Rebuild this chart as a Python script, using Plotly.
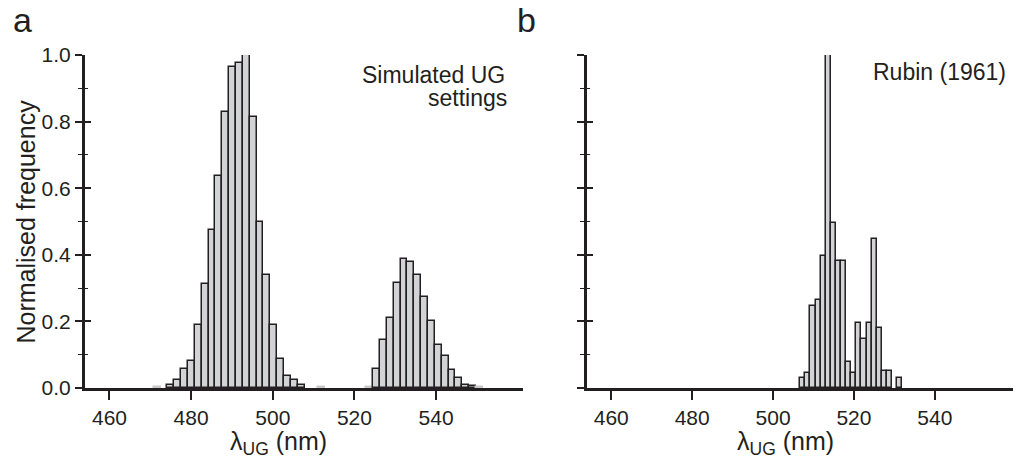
import plotly.graph_objects as go

# ---------------- data ----------------
# Panel a: simulated UG settings histogram (normalised)
a_bin_start = 470.82      # left edge of first bin (nm)
a_bin_width = 1.68        # nm
a_heights = [0.003, 0.0,
             0.01, 0.023, 0.058, 0.08, 0.188, 0.313, 0.473, 0.636, 0.83, 0.965,
             0.977, 1.0, 0.815, 0.50, 0.34, 0.19, 0.088, 0.037, 0.023, 0.008,
             0.0, 0.0, 0.003, 0.0, 0.0, 0.0, 0.0, 0.0, 0.0, 0.003,
             0.056, 0.145, 0.211, 0.315, 0.388, 0.378, 0.34, 0.273, 0.20, 0.13,
             0.097, 0.054, 0.031, 0.01, 0.007, 0.003]

# Panel b: Rubin (1961)
b_bin_start = 506.73
b_bin_width = 1.26
b_heights = [0.03, 0.045, 0.246, 0.263, 0.397, 1.0, 0.497, 0.38, 0.38, 0.078,
             0.045, 0.196, 0.146, 0.196, 0.447, 0.181, 0.052, 0.052, 0.0, 0.03]

x_ticks = [460, 480, 500, 520, 540]
y_ticks = [0.0, 0.2, 0.4, 0.6, 0.8, 1.0]
y_tick_text = ["0.0", "0.2", "0.4", "0.6", "0.8", "1.0"]
x_range = [454.0, 561.3]

INK = "#231f20"
FILL = "#d1d3d4"
FAINT = "#c8c9ca"
FONT = "Liberation Sans, Arial, sans-serif"


def bars(start, width, heights):
    xs, ys, lc = [], [], []
    for i, h in enumerate(heights):
        if h > 0:
            xs.append(start + (i + 0.5) * width)
            ys.append(h)
            lc.append(FAINT if h < 0.005 else INK)
    return xs, ys, lc


fig = go.Figure()
ax, ay, alc = bars(a_bin_start, a_bin_width, a_heights)
bx, by, blc = bars(b_bin_start, b_bin_width, b_heights)

fig.add_trace(go.Bar(x=ax, y=ay, width=a_bin_width, xaxis="x", yaxis="y",
                     marker=dict(color=FILL, line=dict(color=alc, width=1.5)),
                     showlegend=False, hoverinfo="skip"))
fig.add_trace(go.Bar(x=bx, y=by, width=b_bin_width, xaxis="x2", yaxis="y2",
                     marker=dict(color=FILL, line=dict(color=blc, width=1.5)),
                     showlegend=False, hoverinfo="skip"))
# invisible traces for the inside-tick overlay axes
fig.add_trace(go.Scatter(x=[], y=[], xaxis="x", yaxis="y3", showlegend=False))
fig.add_trace(go.Scatter(x=[], y=[], xaxis="x2", yaxis="y4", showlegend=False))

tickfont = dict(family=FONT, size=21, color=INK)

xcommon = dict(range=x_range, tickmode="array", tickvals=x_ticks,
               ticktext=[str(v) for v in x_ticks], ticks="outside", ticklen=9,
               tickwidth=1.6, tickcolor=INK, showline=True, linewidth=3.2,
               linecolor=INK, showgrid=False, zeroline=False, tickfont=tickfont,
               fixedrange=True)
ycommon = dict(range=[0, 1], tickmode="array", tickvals=y_ticks,
               ticks="outside", ticklen=7, tickwidth=1.8, tickcolor=INK,
               showline=True, linewidth=3.2, linecolor=INK, showgrid=False,
               zeroline=False, tickfont=tickfont, fixedrange=True,
               minor=dict(dtick=0.1, tick0=0, ticks="outside", ticklen=4,
                          tickwidth=1.3, tickcolor=INK, showgrid=False))
yinside = dict(range=[0, 1], tickmode="array", tickvals=y_ticks,
               ticks="inside", ticklen=6, tickwidth=1.8, tickcolor=INK,
               showline=False, showgrid=False, zeroline=False,
               showticklabels=False, fixedrange=True,
               minor=dict(dtick=0.1, tick0=0, ticks="inside", ticklen=3,
                          tickwidth=1.3, tickcolor=INK, showgrid=False))

dom_a = [0.0, 0.468]
dom_b = [0.5363, 1.0]

# the page body has an 8px margin, so the figure is sized/offset accordingly
fig.update_layout(
    width=1013, height=457,
    margin=dict(l=77, r=0, t=47, b=77),
    paper_bgcolor="white", plot_bgcolor="white",
    bargap=0,
    xaxis=dict(domain=dom_a, anchor="y", **xcommon),
    yaxis=dict(domain=[0, 1], anchor="x", ticktext=y_tick_text, **ycommon),
    xaxis2=dict(domain=dom_b, anchor="y2", **xcommon),
    yaxis2=dict(domain=[0, 1], anchor="x2", showticklabels=False, **ycommon),
    yaxis3=dict(overlaying="y", anchor="x", **yinside),
    yaxis4=dict(overlaying="y2", anchor="x2", **yinside),
)

ann_font = dict(family=FONT, size=23, color=INK)
title_font = dict(family=FONT, size=25, color=INK)
letter_font = dict(family=FONT, size=34, color=INK)

annotations = [
    dict(text="Simulated UG", x=0.4509, y=0.94, xref="paper", yref="paper",
         xanchor="right", yanchor="middle", align="right", showarrow=False,
         font=ann_font),
    dict(text="settings", x=0.4530, y=0.872, xref="paper", yref="paper",
         xanchor="right", yanchor="middle", align="right", showarrow=False,
         font=ann_font),
    dict(text="Rubin (1961)", x=558.0, y=0.95, xref="x2", yref="y2",
         xanchor="right", yanchor="middle", align="right", showarrow=False,
         font=ann_font),
    dict(text="λ<sub>UG</sub> (nm)", x=501.5, y=-0.165, xref="x", yref="paper",
         xanchor="center", yanchor="middle", showarrow=False, font=title_font),
    dict(text="λ<sub>UG</sub> (nm)", x=503.0, y=-0.165, xref="x2", yref="paper",
         xanchor="center", yanchor="middle", showarrow=False, font=title_font),
    dict(text="Normalised frequency", x=-0.0641, y=0.5, xref="paper",
         yref="paper", xanchor="center", yanchor="middle", textangle=-90,
         showarrow=False, font=title_font),
    dict(text="a", x=-0.067, y=1.105, xref="paper", yref="paper",
         xanchor="center", yanchor="middle", showarrow=False, font=letter_font),
    dict(text="b", x=0.472, y=1.105, xref="paper", yref="paper",
         xanchor="center", yanchor="middle", showarrow=False, font=letter_font),
]
fig.update_layout(annotations=annotations)

fig.write_html("out.html")
